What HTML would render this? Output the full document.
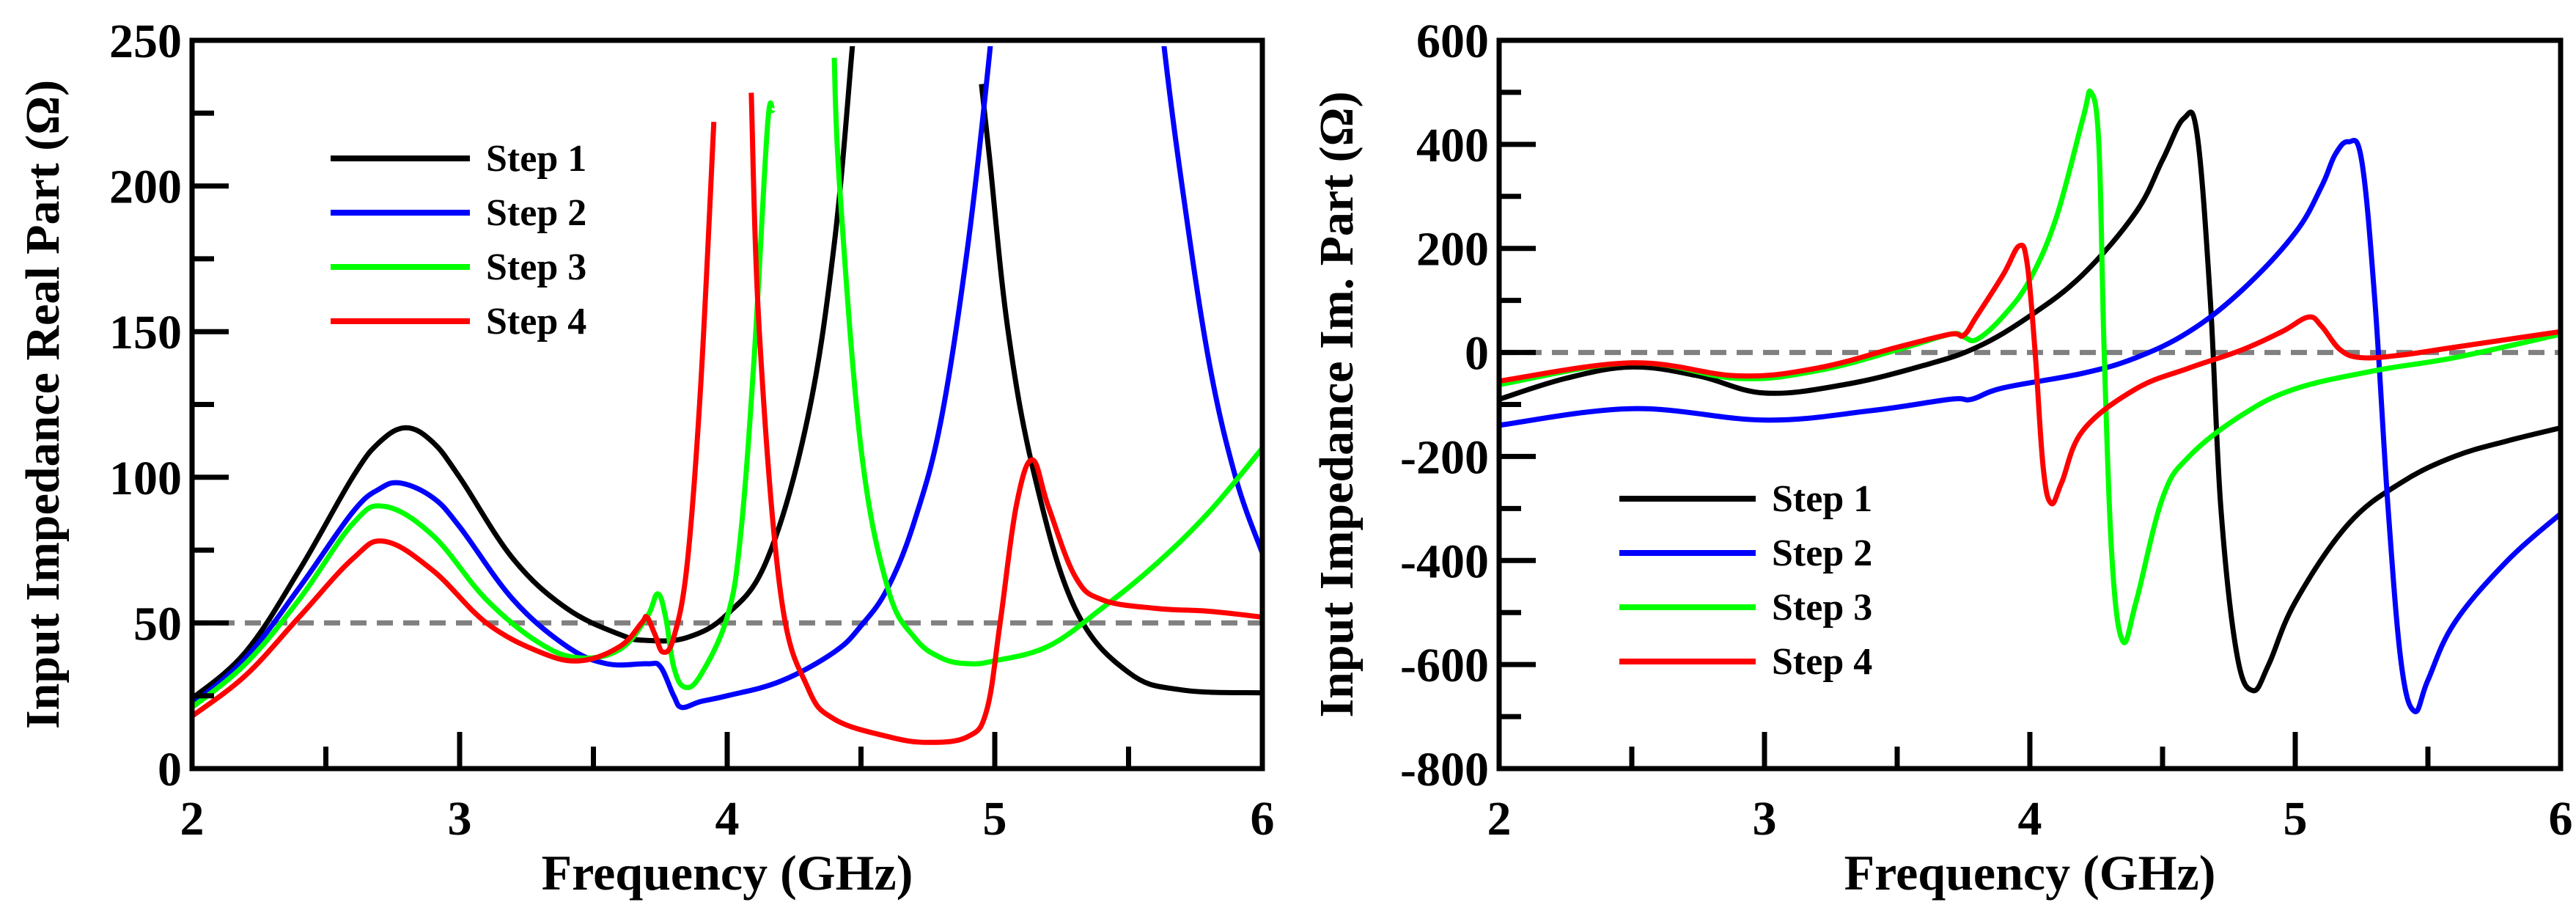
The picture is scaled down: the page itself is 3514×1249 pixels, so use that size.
<!DOCTYPE html>
<html><head><meta charset="utf-8"><style>
html,body{margin:0;padding:0;background:#fff}
svg{display:block}
text{font-family:"Liberation Serif",serif;font-weight:bold;fill:#000}
</style></head><body>
<svg id="chart" width="3514" height="1249" viewBox="0 0 3514 1249" xmlns="http://www.w3.org/2000/svg"></svg>
<script>
// ---- data: left chart (real part) ----
const realS1f=[2,2.2,2.4,2.6,2.7,2.8,2.9,3.0,3.2,3.4,3.6,3.7,3.85,4.0,4.15,4.3,4.4,4.47,4.5,null,4.95,4.98,5.05,5.15,5.3,5.5,5.7,6];
const realS1v=[24,40,68,100,112,117,112,100,72,55,46,44,45,53,72,120,180,250,280,null,235,210,150,100,55,33,27,26];
const realS2f=[2,2.2,2.4,2.6,2.7,2.78,2.9,3.0,3.2,3.4,3.55,3.7,3.75,3.8,3.83,3.9,4.0,4.2,4.4,4.5,4.6,4.7,4.8,4.9,4.98,5.0,null,5.6,5.63,5.7,5.8,5.9,6];
const realS2v=[22,38,62,88,96,98,93,83,58,42,36,36,35,25,21,23,25,30,40,49,62,85,120,180,245,270,null,280,250,200,140,100,74];
const realS3f=[2,2.2,2.4,2.6,2.72,2.9,3.1,3.3,3.45,3.6,3.7,3.74,3.77,3.8,3.84,3.9,4.0,4.05,4.1,4.15,4.17,null,4.40,4.42,4.5,4.6,4.7,4.8,4.9,5.0,5.2,5.4,5.6,5.8,6];
const realS3v=[21,36,58,84,90,80,58,43,38,41,52,60,52,35,28,32,52,80,140,220,226,null,244,200,110,62,45,38,36,37,42,55,70,88,110];
const realS4f=[2,2.2,2.4,2.6,2.72,2.9,3.1,3.3,3.45,3.6,3.68,3.7,3.73,3.76,3.8,3.85,3.9,3.95,null,4.09,4.12,4.2,4.3,4.4,4.6,4.75,4.9,4.97,5.02,5.08,5.14,5.2,5.3,5.4,5.6,5.8,6];
const realS4v=[18,32,52,72,78,68,50,40,37,42,50,52,46,40,45,70,130,222,null,232,150,60,28,17,11,9,11,20,50,90,106,90,66,58,55,54,52];
// ---- data: right chart (imag part) ----
const imS1f=[2,2.25,2.5,2.75,3.0,3.3,3.6,3.8,4.0,4.2,4.4,4.5,4.58,4.63,4.68,4.72,4.78,4.84,4.9,5.0,5.2,5.4,5.6,5.8,6];
const imS1v=[-90,-50,-28,-45,-78,-62,-25,10,70,150,270,370,450,420,100,-300,-580,-650,-600,-480,-330,-250,-200,-170,-145];
const imS2f=[2,2.5,3.0,3.4,3.7,3.78,3.9,4.2,4.4,4.6,4.8,5.0,5.1,5.15,5.2,5.25,5.3,5.35,5.4,5.45,5.5,5.6,5.8,6];
const imS2v=[-140,-108,-130,-112,-90,-90,-68,-40,-10,40,120,230,320,380,405,370,100,-300,-600,-690,-630,-520,-400,-310];
const imS3f=[2,2.5,2.9,3.2,3.5,3.7,3.75,3.8,3.9,4.0,4.1,4.2,4.23,4.26,4.28,4.31,4.35,4.4,4.5,4.6,4.8,5.0,5.3,5.6,6];
const imS3v=[-62,-20,-50,-35,5,35,30,25,70,140,260,450,500,400,0,-400,-555,-480,-280,-200,-120,-70,-35,-10,35];
const imS4f=[2,2.5,2.9,3.2,3.5,3.7,3.75,3.8,3.9,3.96,3.99,4.02,4.05,4.08,4.12,4.2,4.4,4.6,4.8,4.95,5.05,5.1,5.17,5.25,5.4,5.6,6];
const imS4v=[-55,-20,-45,-30,10,35,33,70,150,205,170,0,-220,-290,-250,-150,-70,-30,5,40,68,50,5,-10,-5,10,40];
const xTicks=[2,3,4,5,6];
const realTicks=[0,50,100,150,200,250];
const imTicks=[-800,-600,-400,-200,0,200,400,600];
const legendLabels=["Step 1","Step 2","Step 3","Step 4"];
const colors=["#000","#0000ff","#00ff00","#ff0000"];

const NS="http://www.w3.org/2000/svg";
const svg=document.getElementById('chart');
function mk(tag,attrs,parent){const e=document.createElementNS(NS,tag);for(const k in attrs)e.setAttribute(k,attrs[k]);(parent||svg).appendChild(e);return e;}
function smooth(pts){
  if(pts.length<2)return '';
  let d='M'+pts[0][0].toFixed(1)+' '+pts[0][1].toFixed(1);
  for(let i=0;i<pts.length-1;i++){
    const p0=pts[Math.max(0,i-1)],p1=pts[i],p2=pts[i+1],p3=pts[Math.min(pts.length-1,i+2)];
    const t=0.18;
    const c1=[p1[0]+(p2[0]-p0[0])*t,p1[1]+(p2[1]-p0[1])*t];
    const c2=[p2[0]-(p3[0]-p1[0])*t,p2[1]-(p3[1]-p1[1])*t];
    d+=' C'+c1[0].toFixed(1)+' '+c1[1].toFixed(1)+' '+c2[0].toFixed(1)+' '+c2[1].toFixed(1)+' '+p2[0].toFixed(1)+' '+p2[1].toFixed(1);
  }
  return d;
}

function drawPanel(p){
  const g=mk('g',{});
  
  
  const X=f=>p.x0+(f-2)/4*(p.x1-p.x0);
  const Y=v=>p.y1-(v-p.ymin)/(p.ymax-p.ymin)*(p.y1-p.y0);
  const cid='clip-'+p.name;
  const cp=mk('clipPath',{id:cid},g);mk('rect',{x:p.x0,y:p.y0+8,width:p.x1-p.x0,height:p.y1-p.y0-8},cp);
  const ref=mk('line',{x1:p.x0,x2:p.x1,y1:Y(p.ref),y2:Y(p.ref),stroke:'#808080','stroke-width':7,'stroke-dasharray':'22 14'},g);
  
  
  p.series.forEach((s,i)=>{
    let d='',seg=[];
    for(let k=0;k<=s[0].length;k++){
      if(k===s[0].length||s[0][k]===null){d+=smooth(seg)+' ';seg=[];continue;}
      seg.push([X(s[0][k]),Y(s[1][k])]);
    }
    const path=mk('path',{d:d,fill:'none',stroke:colors[i],'stroke-width':7,'stroke-linejoin':'round','clip-path':'url(#'+cid+')'},g);
    
    
  });
  const fr=mk('rect',{x:p.x0,y:p.y0,width:p.x1-p.x0,height:p.y1-p.y0,fill:'none',stroke:'#000','stroke-width':7},g);
  
  
  for(let f=2;f<=6.001;f+=0.5){
    const major=Math.abs(f-Math.round(f))<1e-6;
    mk('line',{x1:X(f),x2:X(f),y1:p.y1,y2:p.y1-(major?50:30),stroke:'#000','stroke-width':7},g);
  }
  xTicks.forEach(t=>{
    const tx=mk('text',{x:X(t),y:p.y1+90,'text-anchor':'middle','font-size':66},g);tx.textContent=t;
    
    
  });
  const step=p.ticks[1]-p.ticks[0];
  for(let v=p.ymin;v<=p.ymax+1e-6;v+=step/2){
    const major=Math.abs(((v-p.ymin)/step)-Math.round((v-p.ymin)/step))<1e-6;
    mk('line',{x1:p.x0,x2:p.x0+(major?50:30),y1:Y(v),y2:Y(v),stroke:'#000','stroke-width':7},g);
  }
  p.ticks.forEach(t=>{
    const ty=mk('text',{x:p.x0-14,y:Y(t)+23,'text-anchor':'end','font-size':66},g);ty.textContent=t;
    
    
  });
  const xt=mk('text',{x:(p.x0+p.x1)/2,y:1213,'text-anchor':'middle','font-size':68},g);xt.textContent='Frequency (GHz)';
  
  
  const cy=(p.y0+p.y1)/2;
  const yt=mk('text',{x:p.ytx,y:cy,'text-anchor':'middle','font-size':66,transform:'rotate(-90 '+p.ytx+' '+cy+')'},g);yt.textContent=p.ytitle;
  
  
  legendLabels.forEach((lab,i)=>{
    const ly=p.ly0+i*p.ldy;
    const ll=mk('line',{x1:p.lx0,x2:p.lx1,y1:ly,y2:ly,stroke:colors[i],'stroke-width':8},g);
    
    
    const lt=mk('text',{x:p.lx1+22,y:ly+17,'font-size':52},g);lt.textContent=lab;
    
    
  });
}
drawPanel({name:'real-part-chart',x0:262,x1:1722,y0:55,y1:1048,ymin:0,ymax:250,ref:50,ticks:realTicks,
  ytitle:'Input Impedance Real Part (Ω)',ytx:80,
  series:[[realS1f,realS1v],[realS2f,realS2v],[realS3f,realS3v],[realS4f,realS4v]],
  lx0:451,lx1:641,ly0:216,ldy:74});
drawPanel({name:'imag-part-chart',x0:2045,x1:3493,y0:55,y1:1048,ymin:-800,ymax:600,ref:0,ticks:imTicks,
  ytitle:'Input Impedance Im. Part (Ω)',ytx:1845,
  series:[[imS1f,imS1v],[imS2f,imS2v],[imS3f,imS3v],[imS4f,imS4v]],
  lx0:2209,lx1:2395,ly0:680,ldy:74});
</script>
</body></html>
